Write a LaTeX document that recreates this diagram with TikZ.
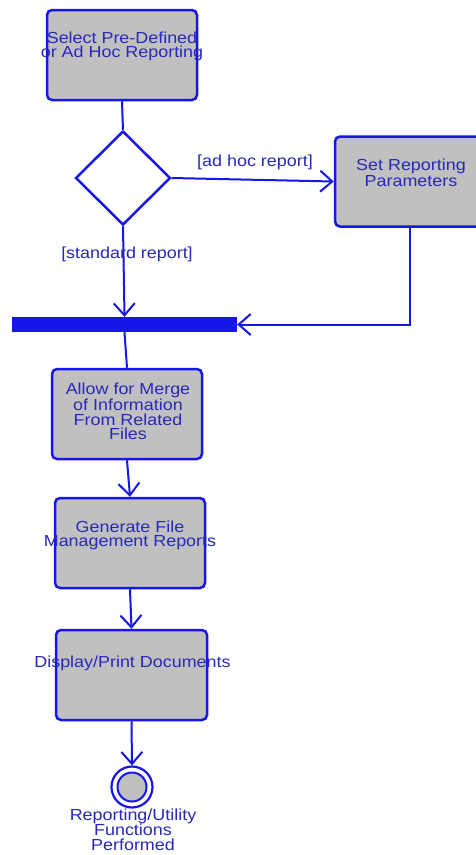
\documentclass[tikz,border=0pt]{standalone}
\usepackage{fontspec}
\setmainfont{Liberation Sans}[FakeStretch=1.12]
\usetikzlibrary{shapes.geometric,arrows.meta}
\definecolor{umlblue}{RGB}{22,22,232}
\definecolor{umltext}{RGB}{40,40,185}
\definecolor{umlgray}{RGB}{192,192,192}
\tikzset{
  actbox/.style={draw=umlblue, fill=umlgray, line width=2.5pt, rounded corners=5pt,
    minimum width=150pt, minimum height=90pt, inner sep=0pt},
  acttext/.style={text=umltext, align=center, inner sep=0pt, font=\fontsize{16}{14.5}\selectfont},
  flow/.style={draw=umlblue, line width=2pt},
  flowarrow/.style={flow, -{Straight Barb[length=12pt,width=21pt,line width=2pt]}},
}
\begin{document}
\begin{tikzpicture}[x=1pt,y=-1pt]
\useasboundingbox (0,0) rectangle (476,855);
\clip (0,0) rectangle (476,855);
\fill[white] (0,0) rectangle (476,855);

% activity boxes
\node[actbox] (b1) at (122,55) {};
\node[actbox] (b2) at (410,181.5) {};
\node[actbox] (b3) at (127,414) {};
\node[actbox] (b4) at (130,543) {};
\node[actbox, minimum width=151pt] (b5) at (131.5,675) {};

% decision
\node[diamond, draw=umlblue, fill=white, line width=2.5pt, aspect=1,
      minimum width=95pt, minimum height=94pt, inner sep=0pt] (d) at (123,178) {};

% join bar
\node[fill=umlblue, minimum width=225pt, minimum height=15pt, inner sep=0pt] (bar) at (124.5,324.5) {};

% final state
\node[circle, draw=umlblue, fill=white, line width=2.2pt, minimum size=41pt, inner sep=0pt] (fin) at (132,787) {};
\node[circle, draw=umlblue, fill=umlgray, line width=2pt, minimum size=29pt, inner sep=0pt] (fininner) at (fin.center) {};

% texts in boxes
\node[acttext] (t1) at ([yshift=8.5pt]b1.center) {Select Pre-Defined\\or Ad Hoc Reporting};
\node[acttext, font=\fontsize{16}{15.5}\selectfont] (t2) at ([xshift=1pt,yshift=8.5pt]b2.center) {Set Reporting\\Parameters};
\node[acttext] (t3) at ([xshift=1pt,yshift=2.5pt]b3.center) {Allow for Merge\\of Information\\From Related\\Files};
\node[acttext] (t4) at ([yshift=7.5pt]b4.center) {Generate File\\Management Reports};
\node[acttext] (t5) at ([xshift=1pt,yshift=12pt]b5.center) {Display/Print Documents};
\node[acttext] (t6) at (133,829.5) {Reporting/Utility\\Functions\\Performed};

% connectors
\draw[flow] (b1.south) -- (d.north);
\draw[flowarrow] (d.east) -- (b2.west);
\draw[flowarrow] (d.south) -- (bar.north);
\draw[flowarrow] (b2.south) |- (bar.east);
\draw[flow] (bar.south) -- (b3.north);
\draw[flowarrow] (b3.south) -- (b4.north);
\draw[flowarrow] (b4.south) -- (b5.north);
\draw[flowarrow] (b5.south) -- (fin.north);

% guard labels
\node[acttext] (g1) at (255,162) {[ad hoc report]};
\node[acttext] (g2) at (127,254) {[standard report]};
\end{tikzpicture}
\end{document}
